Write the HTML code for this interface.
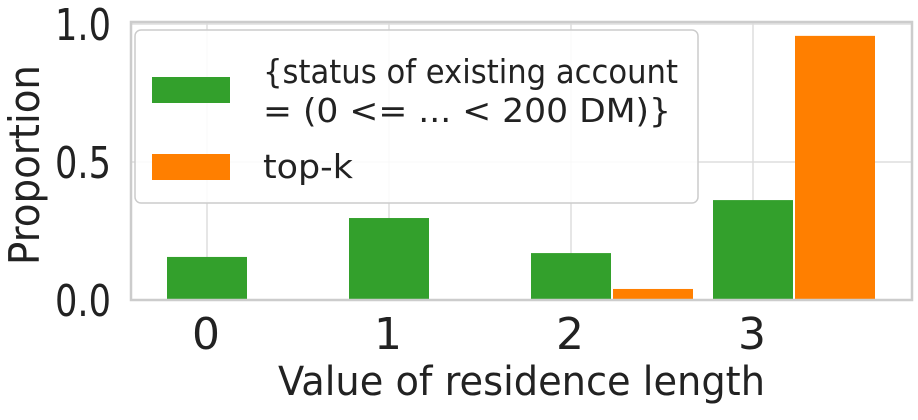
<!DOCTYPE html>
<html><head><meta charset="utf-8"><style>
html,body{margin:0;padding:0;background:#fff;}
svg text{font-family:"DejaVu Sans","Liberation Sans",sans-serif;fill:#222;}
</style></head><body>
<svg id="chart" width="918" height="415" viewBox="0 0 918 415">
<g id="grid"></g>
<g id="bars"></g>
<rect x="131" y="22" width="781" height="278" fill="none" stroke="#ccc" stroke-width="2.5"/>
<g id="ticks"></g>
<text x="0" y="0" font-size="42" text-anchor="middle" textLength="200" lengthAdjust="spacingAndGlyphs" transform="translate(39 165) rotate(-90)">Proportion</text>
<text x="278" y="395" font-size="40" textLength="487" lengthAdjust="spacingAndGlyphs">Value of residence length</text>
<g>
<rect x="135" y="30" width="563" height="173" rx="6" fill="#fff" fill-opacity="0.85" stroke="#ccc" stroke-width="1.5"/>
<rect x="152" y="77" width="78" height="26" fill="#33a02c"/>
<text x="263" y="83" font-size="33" textLength="415" lengthAdjust="spacingAndGlyphs">{status of existing account</text>
<text x="263" y="122" font-size="33" textLength="408" lengthAdjust="spacingAndGlyphs">= (0 &lt;= ... &lt; 200 DM)}</text>
<rect x="152" y="154" width="78" height="26" fill="#ff7f00"/>
<text x="263" y="178" font-size="33" textLength="90" lengthAdjust="spacingAndGlyphs">top-k</text>
</g>
</svg>
<script>
const categories = ["0","1","2","3"];
const statusValues = [0.156, 0.297, 0.170, 0.362];
const topkValues = [0.0, 0.0, 0.040, 0.957];
const yTicks = [0.0, 0.5, 1.0];
const yTickLabels = ["0.0","0.5","1.0"];
const NS="http://www.w3.org/2000/svg";
function y(v){return 300 - v*276;}
function x(i){return 207 + i*182;}
const bw=80;
function mk(tag,attrs,parent){const e=document.createElementNS(NS,tag);for(const k in attrs)e.setAttribute(k,attrs[k]);document.getElementById(parent).appendChild(e);return e;}
categories.forEach((c,i)=>{
  const g=mk('line',{x1:x(i),x2:x(i),y1:22,y2:300,stroke:'#ddd','stroke-width':1.5},'grid');
  
  
  const t=mk('text',{x:x(i)-1,y:349,'font-size':44,'text-anchor':'middle'},'ticks');
  t.textContent=c;
  
  
});
yTicks.forEach((v,i)=>{
  const g=mk('line',{x1:131,x2:912,y1:y(v),y2:y(v),stroke:'#ddd','stroke-width':1.5},'grid');
  
  
  const t=mk('text',{x:55,y:y(v)+16,'font-size':44,textLength:56,lengthAdjust:'spacingAndGlyphs'},'ticks');
  t.textContent=yTickLabels[i];
  
  
});
categories.forEach((c,i)=>{
  const a=mk('rect',{x:x(i)-bw/2,y:y(statusValues[i]),width:bw,height:300-y(statusValues[i]),fill:'#33a02c'},'bars');
  
  
  const b=mk('rect',{x:x(i)+bw/2+2,y:y(topkValues[i]),width:bw,height:300-y(topkValues[i]),fill:'#ff7f00'},'bars');
  
  
});
</script>
</body></html>
